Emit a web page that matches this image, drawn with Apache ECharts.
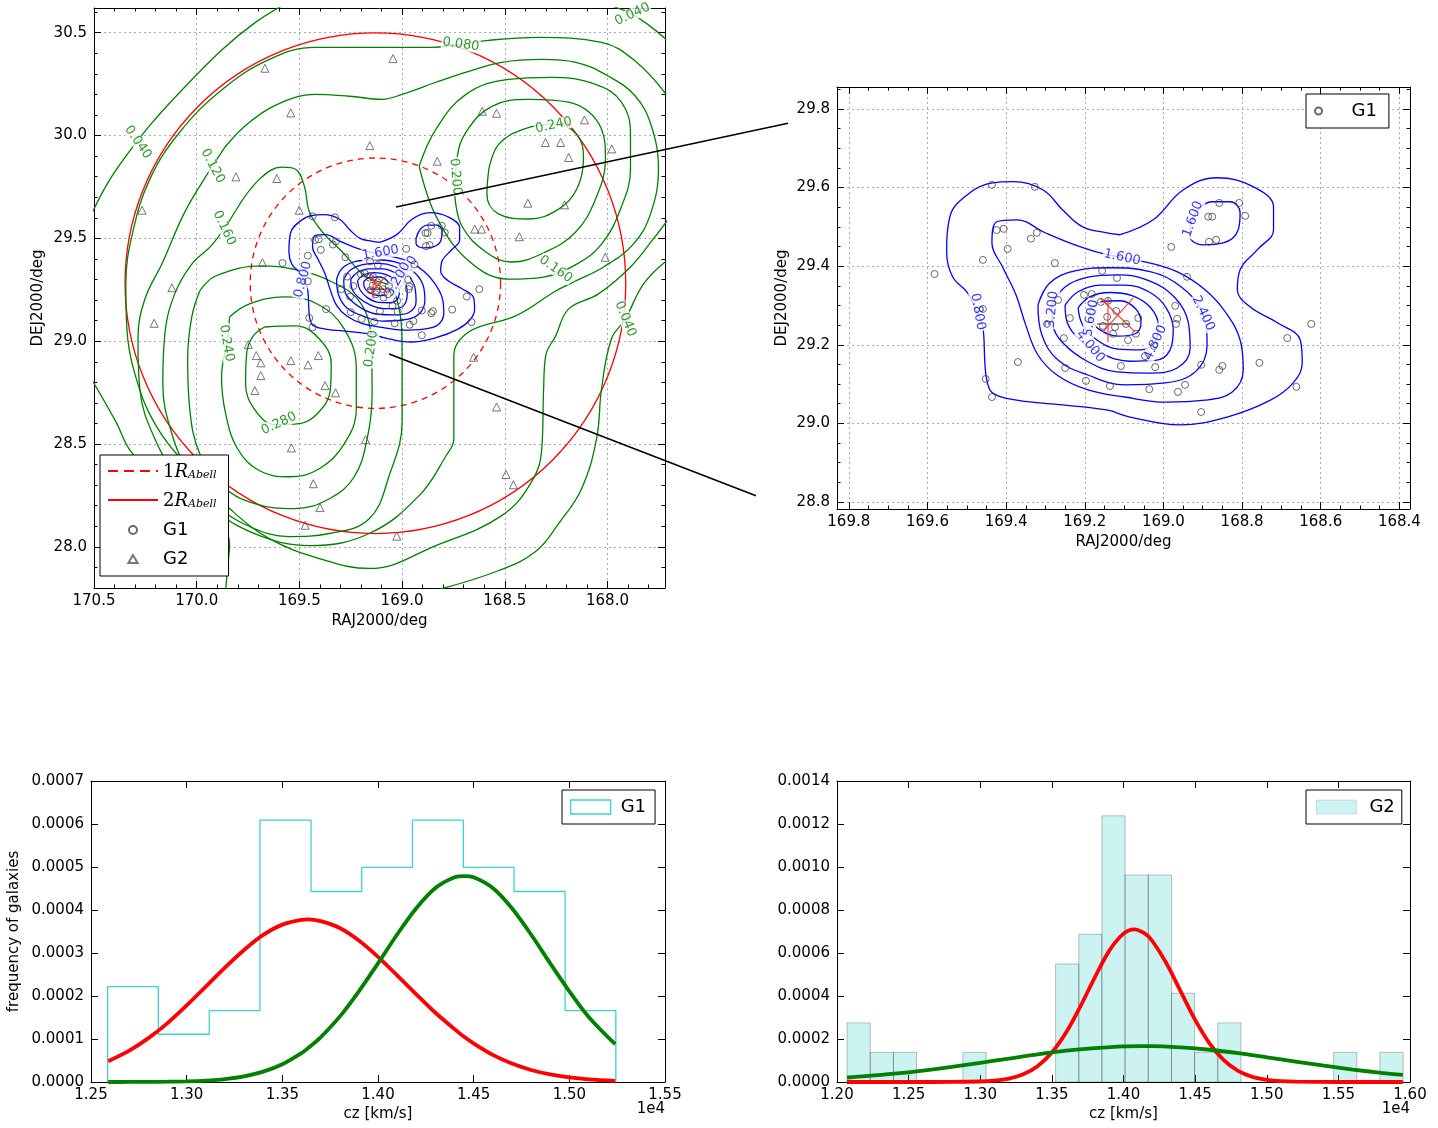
<!DOCTYPE html>
<html><head><meta charset="utf-8">
<script src="https://cdn.jsdelivr.net/npm/echarts@6/dist/echarts.min.js"></script>
<style>html,body{margin:0;padding:0;background:#fff}#c{width:1438px;height:1128px}</style>
</head><body><div id="c"></div><script>
// ---------------- DATA ----------------
// tick labels
const tlXMajor = [168.0,168.5,169.0,169.5,170.0,170.5];
const tlYMajor = [28.0,28.5,29.0,29.5,30.0,30.5];
const trXMajor = [168.4,168.6,168.8,169.0,169.2,169.4,169.6,169.8];
const trYMajor = [28.8,29.0,29.2,29.4,29.6,29.8];
const blXMajor = [1.25,1.30,1.35,1.40,1.45,1.50,1.55];
const blYMajor = [0,0.0001,0.0002,0.0003,0.0004,0.0005,0.0006,0.0007];
const brXMajor = [1.20,1.25,1.30,1.35,1.40,1.45,1.50,1.55,1.60];
const brYMajor = [0,0.0002,0.0004,0.0006,0.0008,0.0010,0.0012,0.0014];

// G1 galaxies (RA, Dec)
const g1Points = [[169.436,29.607],[169.327,29.602],[169.424,29.492],[169.406,29.495],[169.337,29.470],[169.322,29.485],[169.396,29.444],[169.459,29.416],[169.582,29.380],[169.276,29.408],[169.268,29.314],[169.296,29.253],[169.238,29.268],[169.459,29.291],[169.253,29.217],[169.370,29.156],[169.250,29.141],[169.197,29.108],[169.136,29.095],[169.452,29.113],[169.436,29.067],[169.156,29.388],[169.118,29.370],[169.202,29.327],[169.182,29.329],[169.141,29.312],[169.143,29.271],[169.120,29.286],[169.154,29.248],[169.123,29.245],[169.128,29.228],[169.095,29.253],[169.108,29.146],[169.090,29.212],[168.858,29.561],[168.807,29.561],[168.792,29.528],[168.886,29.526],[168.876,29.526],[168.884,29.462],[168.866,29.467],[168.980,29.449],[168.940,29.373],[168.970,29.299],[168.965,29.266],[168.968,29.253],[169.064,29.268],[169.070,29.228],[169.024,29.197],[169.047,29.171],[169.021,29.143],[168.904,29.149],[168.858,29.136],[168.850,29.146],[168.756,29.154],[168.685,29.217],[168.624,29.253],[168.662,29.093],[169.036,29.087],[168.963,29.080],[168.945,29.098],[168.904,29.029],[169.159,29.309]];
// G2 galaxies (RA, Dec)
const g2Points = [[169.668,30.327],[169.542,30.110],[169.157,29.951],[169.809,29.799],[169.610,29.791],[170.266,29.637],[169.501,29.637],[169.680,29.382],[170.121,29.260],[169.044,30.374],[168.610,30.118],[168.540,30.108],[168.112,30.076],[168.302,29.966],[168.228,29.966],[168.189,29.893],[167.979,29.935],[168.829,29.875],[168.388,29.671],[168.209,29.663],[168.646,29.545],[168.613,29.545],[168.429,29.508],[168.011,29.408],[170.207,29.087],[169.749,28.984],[169.710,28.930],[169.688,28.895],[169.688,28.833],[169.717,28.760],[169.542,28.906],[169.458,28.885],[169.408,28.930],[169.375,28.784],[169.324,28.749],[169.539,28.481],[169.178,28.521],[169.432,28.307],[169.400,28.191],[169.472,28.105],[168.652,28.922],[168.540,28.680],[168.494,28.352],[168.458,28.302],[169.026,28.052]];

// Abell radius circles: [RA, Dec, radius deg]
const abell1R = [[169.13, 29.282, 0.609]];
const abell2R = [[169.13, 29.282, 1.218]];

// centre marks [x1,y1,x2,y2,kind]
const centerMarks = [[169.161,29.319,169.072,29.233,0],[169.154,29.233,169.077,29.319,0],[169.141,29.319,169.141,29.207,0],[169.169,29.253,169.085,29.253,1]];
// zoom connectors (top-left data coords) [x1,y1,x2,y2]
const connectors = [[169.029,29.652,167.121,30.060],[169.063,28.938,167.277,28.249]];

// G2 density contours (green)
const g040a = [[169.573,30.637],[169.714,30.550],[169.874,30.419],[170.068,30.225],[170.223,30.055],[170.359,29.880],[170.442,29.754],[170.519,29.603]];
const g040b = [[170.519,28.827],[170.393,28.608],[170.320,28.463],[170.180,28.332],[170.010,28.210],[169.888,28.113],[169.840,28.016],[169.850,27.895],[169.859,27.788]];
const g040c = [[167.714,29.390],[167.825,29.278],[167.913,29.108],[167.981,29.011],[168.029,28.768],[168.053,28.526],[168.126,28.283],[168.238,28.113],[168.350,27.977],[168.529,27.885],[168.820,27.793]];
const g040d = [[168.044,30.647],[167.879,30.589],[167.714,30.467]];
const g080 = [[167.714,30.200],[167.864,30.361],[168.029,30.453],[168.335,30.477],[168.578,30.463],[168.854,30.429],[169.097,30.429],[169.422,30.429],[169.646,30.370],[169.874,30.225],[170.083,30.016],[170.228,29.788],[170.311,29.531],[170.345,29.278],[170.340,29.060],[170.301,28.841],[170.204,28.599],[170.034,28.380],[169.840,28.186],[169.646,28.040],[169.403,27.943],[169.160,27.895],[168.835,28.006],[168.515,28.152],[168.369,28.317],[168.320,28.477],[168.311,28.768],[168.301,28.929],[168.252,29.026],[168.189,29.157],[168.044,29.230],[167.888,29.361],[167.777,29.497],[167.704,29.594]];
const g120 = [[169.859,29.948],[169.743,30.065],[169.583,30.162],[169.422,30.200],[169.257,30.191],[169.097,30.176],[169.000,30.200],[168.835,30.259],[168.675,30.312],[168.515,30.356],[168.320,30.370],[168.155,30.356],[167.995,30.288],[167.864,30.191],[167.786,30.045],[167.752,29.836],[167.791,29.618],[167.874,29.472],[168.019,29.361],[168.165,29.288],[168.252,29.244],[168.447,29.123],[168.675,29.045],[168.748,28.929],[168.748,28.526],[168.786,28.443],[168.917,28.249],[169.160,28.065],[169.451,28.006],[169.694,28.055],[169.913,28.176],[170.083,28.332],[170.204,28.526],[170.277,28.768],[170.286,29.011],[170.252,29.205],[170.165,29.385],[170.068,29.608],[169.985,29.754]];
const g160a = [[169.811,29.633],[169.694,29.788],[169.583,29.846],[169.519,29.836],[169.476,29.754],[169.451,29.628],[169.388,29.531],[169.291,29.434],[169.180,29.317],[169.039,29.244],[169.000,28.929],[169.000,28.608],[169.063,28.346],[169.160,28.137],[169.354,28.065],[169.549,28.050],[169.743,28.099],[169.913,28.210],[170.034,28.356],[170.121,28.550],[170.165,28.793],[170.155,29.035],[170.107,29.230],[170.024,29.375],[169.922,29.472]];
const g160b = [[168.917,29.851],[168.835,30.031],[168.689,30.200],[168.481,30.273],[168.272,30.283],[168.058,30.249],[167.932,30.162],[167.888,30.006],[167.888,29.836],[167.937,29.642],[168.029,29.472],[168.150,29.375],[168.311,29.312],[168.481,29.302],[168.675,29.390],[168.835,29.608]];
const g200a = [[169.985,29.244],[169.908,29.317],[169.680,29.366],[169.534,29.351],[169.340,29.288],[169.199,29.181],[169.150,28.987],[169.146,28.744],[169.170,28.526],[169.233,28.341],[169.354,28.234],[169.524,28.186],[169.718,28.210],[169.879,28.298],[169.985,28.453],[170.034,28.671],[170.044,28.914],[170.024,29.118]];
const g200b = [[168.743,29.705],[168.733,29.885],[168.689,30.016],[168.563,30.142],[168.383,30.176],[168.189,30.162],[168.029,30.031],[168.010,29.885],[168.058,29.691],[168.155,29.531],[168.301,29.434],[168.466,29.385],[168.592,29.434],[168.709,29.560]];
const g240a = [[169.840,29.118],[169.743,29.181],[169.573,29.215],[169.413,29.181],[169.282,29.060],[169.223,28.866],[169.223,28.671],[169.282,28.501],[169.403,28.380],[169.549,28.341],[169.694,28.370],[169.801,28.477],[169.859,28.647],[169.879,28.827],[169.850,29.011]];
const g240b = [[168.578,29.836],[168.529,29.958],[168.408,30.031],[168.262,30.055],[168.150,30.006],[168.117,29.885],[168.150,29.739],[168.238,29.642],[168.383,29.594],[168.529,29.618],[168.587,29.715]];
const g280 = [[169.670,29.069],[169.519,29.074],[169.403,29.011],[169.345,28.890],[169.350,28.759],[169.413,28.647],[169.500,28.599],[169.617,28.594],[169.714,28.662],[169.762,28.793],[169.757,28.938],[169.728,29.021]];

// G1 density contours (blue)
const b080 = [[169.110,29.480],[169.026,29.518],[168.950,29.594],[168.863,29.625],[168.771,29.602],[168.720,29.551],[168.720,29.492],[168.761,29.442],[168.805,29.391],[168.812,29.340],[168.779,29.296],[168.710,29.256],[168.652,29.212],[168.647,29.154],[168.670,29.103],[168.728,29.059],[168.838,29.016],[168.958,28.996],[169.085,29.016],[169.144,29.034],[169.256,29.047],[169.373,29.059],[169.434,29.077],[169.449,29.110],[169.454,29.154],[169.459,29.245],[169.477,29.289],[169.498,29.332],[169.536,29.373],[169.551,29.434],[169.543,29.526],[169.492,29.587],[169.434,29.612],[169.383,29.615],[169.306,29.594],[169.256,29.543],[169.205,29.500],[169.144,29.485]];
const b160 = [[169.047,29.411],[168.963,29.385],[168.894,29.340],[168.843,29.284],[168.805,29.212],[168.797,29.136],[168.825,29.080],[168.894,29.059],[168.996,29.054],[169.098,29.067],[169.192,29.085],[169.268,29.121],[169.319,29.174],[169.350,29.250],[169.375,29.327],[169.408,29.396],[169.436,29.459],[169.424,29.513],[169.373,29.518],[169.301,29.485],[169.225,29.454],[169.161,29.434]];
const b160i = [[168.932,29.500],[168.912,29.543],[168.876,29.564],[168.830,29.564],[168.805,29.536],[168.810,29.492],[168.848,29.459],[168.899,29.454],[168.932,29.475]];
const b240 = [[169.319,29.301],[169.289,29.357],[169.225,29.388],[169.136,29.396],[169.034,29.386],[168.952,29.345],[168.899,29.276],[168.889,29.199],[168.919,29.131],[168.996,29.103],[169.098,29.098],[169.192,29.123],[169.268,29.161],[169.309,29.225]];
const b320 = [[169.284,29.301],[169.250,29.347],[169.192,29.372],[169.115,29.378],[169.034,29.362],[168.970,29.319],[168.937,29.258],[168.932,29.192],[168.965,29.141],[169.034,29.128],[169.118,29.131],[169.194,29.158],[169.256,29.205],[169.281,29.250]];
const b400 = [[169.250,29.301],[169.217,29.335],[169.161,29.352],[169.098,29.352],[169.034,29.333],[168.993,29.294],[168.975,29.238],[168.983,29.187],[169.021,29.160],[169.085,29.158],[169.156,29.177],[169.212,29.212],[169.245,29.258]];
const b480 = [[169.217,29.294],[169.187,29.322],[169.136,29.333],[169.080,29.325],[169.034,29.296],[169.013,29.250],[169.021,29.207],[169.059,29.187],[169.115,29.189],[169.169,29.212],[169.205,29.250]];
const b560 = [[169.187,29.289],[169.156,29.310],[169.110,29.312],[169.070,29.291],[169.057,29.256],[169.072,29.228],[169.115,29.222],[169.161,29.238],[169.184,29.263]];

// contour labels [x, y, text, rotation]
const greenLabelsTL = [[170.286,29.967,'0.040',-55],[168.714,30.443,'0.080',-8],[169.922,29.851,'0.120',-62],[169.866,29.550,'0.160',-65],[168.740,29.800,'0.200',-85],[168.262,30.050,'0.240',12],[168.252,29.350,'0.160',-35],[167.913,29.108,'0.040',-68],[167.879,30.589,'0.040',25],[169.855,28.990,'0.240',-80],[169.150,28.963,'0.200',82],[169.600,28.600,'0.280',25]];
const blueLabelsTL = [[169.482,29.300,'0.800',75],[169.105,29.430,'1.600',10],[168.985,29.330,'2.400',60],[169.020,29.300,'3.200',60]];
const blueLabelsTR = [[169.472,29.284,'0.800',-80],[169.105,29.422,'1.600',-12],[168.925,29.520,'1.600',70],[168.899,29.280,'2.400',-65],[169.283,29.290,'3.200',85],[169.186,29.196,'4.000',-50],[169.020,29.205,'4.800',65],[169.184,29.268,'5.600',80]];

// G1 velocity histogram (cz / 1e4)
const g1Edges = [1.2587,1.2852,1.3118,1.3383,1.3650,1.3915,1.4180,1.4446,1.4711,1.4978,1.5243];
const g1Freq = [0.000222,0.000111,0.000166,0.000609,0.000443,0.000499,0.000609,0.000499,0.000443,0.000166];
const g1FitX = [1.259,1.27,1.28,1.29,1.30,1.31,1.32,1.33,1.34,1.35,1.36,1.363,1.37,1.38,1.39,1.40,1.41,1.42,1.43,1.44,1.445,1.45,1.46,1.47,1.48,1.49,1.50,1.51,1.524];
const g1FitRed = [0.0000484,0.0000731,0.000102,0.000137,0.000178,0.000222,0.000266,0.000307,0.000342,0.000366,0.000377,0.000378,0.000374,0.000358,0.000329,0.000291,0.000248,0.000204,0.000161,0.000123,0.000105,0.0000897,0.0000632,0.0000429,0.0000280,0.0000176,0.0000107,0.0000062,0.0000027];
const g1FitGreen = [0,0.0000001,0.0000003,0.0000007,0.0000016,0.0000034,0.0000069,0.0000132,0.0000240,0.0000413,0.0000673,0.0000771,0.000104,0.000152,0.000211,0.000276,0.000343,0.000404,0.000451,0.000476,0.000479,0.000476,0.000451,0.000404,0.000343,0.000276,0.000211,0.000152,0.0000879];

// G2 velocity histogram
const g2Edges = [1.2070,1.2232,1.2394,1.2555,1.2717,1.2879,1.3041,1.3202,1.3364,1.3526,1.3688,1.3849,1.4011,1.4173,1.4335,1.4496,1.4658,1.4820,1.4982,1.5143,1.5305,1.5467,1.5629,1.5790,1.5952];
const g2Freq = [0.000275,0.000138,0.000138,0,0,0.000138,0,0,0,0.000549,0.000687,0.001238,0.000963,0.000963,0.000413,0.000138,0.000275,0,0,0,0,0.000138,0,0.000138];
const g2RedX = [1.207,1.25,1.28,1.30,1.31,1.32,1.33,1.34,1.35,1.36,1.37,1.38,1.39,1.40,1.4075,1.415,1.42,1.43,1.44,1.45,1.46,1.47,1.48,1.49,1.50,1.51,1.52,1.55,1.595];
const g2RedY = [0,0,0.0000002,0.0000023,0.0000063,0.0000157,0.0000358,0.0000736,0.000137,0.000231,0.000353,0.000487,0.000610,0.000690,0.000710,0.000690,0.000657,0.000552,0.000420,0.000289,0.000180,0.000102,0.000052,0.000024,0.0000101,0.0000038,0.0000013,0,0];
const g2GreenX = [1.207,1.22,1.24,1.26,1.28,1.30,1.32,1.34,1.36,1.38,1.40,1.413,1.42,1.44,1.46,1.48,1.50,1.52,1.54,1.56,1.58,1.595];
const g2GreenY = [0.0000209,0.0000269,0.0000385,0.0000530,0.0000702,0.0000893,0.000109,0.000129,0.000146,0.000158,0.000166,0.000167,0.000167,0.000161,0.000150,0.000134,0.000115,0.0000953,0.0000758,0.0000579,0.0000426,0.0000329];

// ---------------- CHART ----------------
const FONT = 'DejaVu Sans';
const GREEN = '#008000', BLUE = '#0000ff', RED = '#ff0000', CYAN = '#3fd3c8';

function minorTicks(a, b, step, majors) {
  const out = [], n = Math.round((b - a) / step);
  for (let i = 0; i <= n; i++) {
    const v = +(a + i * step).toFixed(6);
    if (!majors.some(m => Math.abs(m - v) < 1e-7)) out.push(v);
  }
  return out;
}

const xAxes = [], yAxes = [];
function buildAxes(dim, g, c) {
  const isX = dim === 'x';
  const min = isX ? c.xMin : c.yMin, max = isX ? c.xMax : c.yMax;
  const major = isX ? c.xMajor : c.yMajor, minor = isX ? c.xMinor : c.yMinor;
  const fmt = isX ? c.xFmt : c.yFmt;
  const pA = isX ? 'bottom' : 'left', pB = isX ? 'top' : 'right';
  const base = { type: 'value', gridIndex: g, min, max, inverse: isX ? !!c.xInv : false };
  const aline = { show: true, onZero: false, lineStyle: { color: '#000', width: 1 } };
  const out = [];
  out.push(Object.assign({}, base, {
    position: pA, axisLine: aline,
    axisTick: { show: true, inside: true, length: 7, customValues: major, lineStyle: { color: '#000' } },
    axisLabel: { show: true, customValues: major, formatter: v => fmt(v), color: '#000', fontSize: 15, fontFamily: FONT, margin: isX ? 6 : 7 },
    splitLine: { show: !!c.grid, lineStyle: { color: '#aaa', type: [2, 3], width: 1 } },
    name: isX ? c.xName : c.yName, nameLocation: 'middle', nameGap: isX ? c.xGap : c.yGap,
    nameTextStyle: { color: '#000', fontSize: 15, fontFamily: FONT }
  }));
  out.push(Object.assign({}, base, {
    position: pB, axisLine: aline,
    axisTick: { show: true, inside: true, length: 7, customValues: major, lineStyle: { color: '#000' } },
    axisLabel: { show: false }, splitLine: { show: false }
  }));
  [pA, pB].forEach(p => out.push(Object.assign({}, base, {
    position: p, axisLine: { show: false, onZero: false },
    axisTick: { show: minor.length > 0, inside: true, length: 3.5, customValues: minor.length ? minor : [min], lineStyle: { color: '#000' } },
    axisLabel: { show: false }, splitLine: { show: false }
  })));
  return out;
}
function addPanel(g, c) {
  buildAxes('x', g, c).forEach(a => xAxes.push(a));
  buildAxes('y', g, c).forEach(a => yAxes.push(a));
}
const f1 = v => v.toFixed(1), f2 = v => v.toFixed(2), f4 = v => v.toFixed(4);
addPanel(0, { xMin: 167.72, xMax: 170.5, xInv: true, xMajor: tlXMajor, xMinor: minorTicks(167.8, 170.5, 0.1, tlXMajor), xFmt: f1,
  yMin: 27.8, yMax: 30.62, yMajor: tlYMajor, yMinor: minorTicks(27.8, 30.6, 0.1, tlYMajor), yFmt: f1,
  grid: true, xName: 'RAJ2000/deg', yName: 'DEJ2000/deg', xGap: 26, yGap: 48 });
addPanel(1, { xMin: 168.373, xMax: 169.83, xInv: true, xMajor: trXMajor, xMinor: minorTicks(168.4, 169.8, 0.05, trXMajor), xFmt: f1,
  yMin: 28.782, yMax: 29.856, yMajor: trYMajor, yMinor: minorTicks(28.8, 29.85, 0.05, trYMajor), yFmt: f1,
  grid: true, xName: 'RAJ2000/deg', yName: 'DEJ2000/deg', xGap: 26, yGap: 47 });
addPanel(2, { xMin: 1.25, xMax: 1.55, xMajor: blXMajor, xMinor: [], xFmt: f2,
  yMin: 0, yMax: 0.0007, yMajor: blYMajor, yMinor: [], yFmt: f4,
  grid: false, xName: 'cz [km/s]', yName: 'frequency of galaxies', xGap: 25, yGap: 69 });
addPanel(3, { xMin: 1.20, xMax: 1.60, xMajor: brXMajor, xMinor: [], xFmt: f2,
  yMin: 0, yMax: 0.0014, yMajor: brYMajor, yMinor: [], yFmt: f4,
  grid: false, xName: 'cz [km/s]', yName: '', xGap: 25, yGap: 60 });

const series = [];
function contour(pts, color, g, closed) {
  series.push({ type: 'line', xAxisIndex: 4 * g, yAxisIndex: 4 * g, data: closed ? pts.concat([pts[0]]) : pts,
    symbol: 'none', smooth: 0.4, lineStyle: { color, width: 1.3 }, silent: true, z: 2 });
}
function labels(items, color, g) {
  series.push({ type: 'scatter', xAxisIndex: 4 * g, yAxisIndex: 4 * g, symbolSize: 0, silent: true, z: 3,
    data: items.map(it => ({ value: [it[0], it[1]], label: { show: true, position: 'inside', formatter: it[2], rotate: it[3],
      color, fontSize: 13, fontFamily: FONT, backgroundColor: '#fff', padding: [0, 1] } })) });
}
function segRender(color, width, altColor) {
  return (p, api) => {
    const a = api.coord([api.value(0), api.value(1)]);
    const b = api.coord([api.value(2), api.value(3)]);
    return { type: 'line', shape: { x1: a[0], y1: a[1], x2: b[0], y2: b[1] },
      style: { stroke: (altColor && api.value(4) === 1) ? altColor : color, lineWidth: width } };
  };
}
function circleRender(dash) {
  return (p, api) => {
    const c = api.coord([api.value(0), api.value(1)]);
    const s = api.size([api.value(2), api.value(2)]);
    return { type: 'circle', shape: { cx: c[0], cy: c[1], r: (s[0] + s[1]) / 2 },
      style: { fill: 'none', stroke: RED, lineWidth: 1.3, lineDash: dash } };
  };
}

// top-left
[g040a, g040b, g040c, g040d, g080].forEach(c => contour(c, GREEN, 0, false));
[g120, g160a, g160b, g200a, g200b, g240a, g240b, g280].forEach(c => contour(c, GREEN, 0, true));
[b080, b160, b160i, b240, b320, b400, b480, b560].forEach(c => contour(c, BLUE, 0, true));
series.push({ type: 'custom', name: '1R', xAxisIndex: 0, yAxisIndex: 0, data: abell1R, encode: { x: 0, y: 1 },
  renderItem: circleRender([6, 5]), itemStyle: { color: RED }, silent: true, z: 2 });
series.push({ type: 'custom', name: '2R', xAxisIndex: 0, yAxisIndex: 0, data: abell2R, encode: { x: 0, y: 1 },
  renderItem: circleRender(null), itemStyle: { color: RED }, silent: true, z: 2 });
labels(greenLabelsTL, GREEN, 0);
labels(blueLabelsTL, BLUE, 0);
series.push({ type: 'scatter', name: 'G2', xAxisIndex: 0, yAxisIndex: 0, data: g2Points, symbol: 'triangle', symbolSize: 8,
  itemStyle: { color: 'rgba(255,255,255,0)', borderColor: '#555', borderWidth: 1 }, z: 4 });
series.push({ type: 'scatter', name: 'G1', xAxisIndex: 0, yAxisIndex: 0, data: g1Points, symbol: 'circle', symbolSize: 7,
  itemStyle: { color: 'rgba(255,255,255,0)', borderColor: '#444', borderWidth: 1 }, z: 4 });
series.push({ type: 'custom', xAxisIndex: 0, yAxisIndex: 0, data: centerMarks, encode: { x: [0, 2], y: [1, 3] },
  renderItem: segRender('#ff3030', 1.2, '#333'), silent: true, z: 5 });
series.push({ type: 'custom', xAxisIndex: 0, yAxisIndex: 0, data: connectors, encode: { x: [0, 2], y: [1, 3] },
  renderItem: segRender('#000', 1.6), silent: true, z: 6 });

// top-right
[b080, b160, b160i, b240, b320, b400, b480, b560].forEach(c => contour(c, BLUE, 1, true));
labels(blueLabelsTR, BLUE, 1);
series.push({ type: 'scatter', name: 'G1z', xAxisIndex: 4, yAxisIndex: 4, data: g1Points, symbol: 'circle', symbolSize: 7,
  itemStyle: { color: 'rgba(255,255,255,0)', borderColor: '#444', borderWidth: 1 }, z: 4 });
series.push({ type: 'custom', xAxisIndex: 4, yAxisIndex: 4, data: centerMarks, encode: { x: [0, 2], y: [1, 3] },
  renderItem: segRender('#ff3030', 1.1, '#333'), silent: true, z: 5 });

// bottom-left
const stepPts = [[g1Edges[0], 0]];
g1Freq.forEach((h, i) => { stepPts.push([g1Edges[i], h]); stepPts.push([g1Edges[i + 1], h]); });
stepPts.push([g1Edges[g1Edges.length - 1], 0]);
series.push({ type: 'line', name: 'G1h', xAxisIndex: 8, yAxisIndex: 8, data: stepPts, symbol: 'none',
  lineStyle: { color: CYAN, width: 1.3 }, itemStyle: { color: CYAN }, z: 2 });
series.push({ type: 'line', xAxisIndex: 8, yAxisIndex: 8, data: g1FitX.map((x, i) => [x, g1FitRed[i]]), symbol: 'none', smooth: 0.3,
  lineStyle: { color: RED, width: 3.8 }, z: 3 });
series.push({ type: 'line', xAxisIndex: 8, yAxisIndex: 8, data: g1FitX.map((x, i) => [x, g1FitGreen[i]]), symbol: 'none', smooth: 0.3,
  lineStyle: { color: GREEN, width: 3.8 }, z: 3 });

// bottom-right
series.push({ type: 'custom', name: 'G2h', xAxisIndex: 12, yAxisIndex: 12, data: g2Freq.map((h, i) => [g2Edges[i], g2Edges[i + 1], h]),
  encode: { x: [0, 1], y: 2 }, itemStyle: { color: 'rgba(0,191,191,0.2)' },
  renderItem: (p, api) => {
    if (!(api.value(2) > 0)) return null;
    const a = api.coord([api.value(0), api.value(2)]);
    const b = api.coord([api.value(1), 0]);
    return { type: 'rect', shape: { x: a[0], y: a[1], width: b[0] - a[0], height: b[1] - a[1] },
      style: { fill: 'rgba(0,191,191,0.2)', stroke: 'rgba(0,0,0,0.3)', lineWidth: 0.8 } };
  }, z: 1 });
series.push({ type: 'line', xAxisIndex: 12, yAxisIndex: 12, data: g2RedX.map((x, i) => [x, g2RedY[i]]), symbol: 'none', smooth: 0.3,
  lineStyle: { color: RED, width: 3.8 }, z: 3 });
series.push({ type: 'line', xAxisIndex: 12, yAxisIndex: 12, data: g2GreenX.map((x, i) => [x, g2GreenY[i]]), symbol: 'none', smooth: 0.3,
  lineStyle: { color: GREEN, width: 3.8 }, z: 3 });

const legendNames = { '1R': '{n|1}{r|R}{s|Abell}', '2R': '{n|2}{r|R}{s|Abell}', 'G1': 'G1', 'G2': 'G2', 'G1z': 'G1', 'G1h': 'G1', 'G2h': 'G2' };
const legBase = { orient: 'vertical', selectedMode: false, backgroundColor: '#fff', borderColor: '#000', borderWidth: 1, borderRadius: 0,
  formatter: n => legendNames[n] || n,
  textStyle: { fontFamily: FONT, fontSize: 18, color: '#000',
    rich: { n: { fontFamily: 'DejaVu Serif', fontSize: 18, color: '#000', verticalAlign: 'bottom' },
            r: { fontFamily: 'DejaVu Serif', fontStyle: 'italic', fontSize: 18, color: '#000', verticalAlign: 'bottom' },
            s: { fontFamily: 'DejaVu Serif', fontStyle: 'italic', fontSize: 11, color: '#000', verticalAlign: 'bottom', padding: [9, 0, 0, 0] } } } };

const option = {
  animation: false,
  backgroundColor: '#fff',
  textStyle: { fontFamily: FONT },
  grid: [
    { left: 94, top: 8, width: 571, height: 580, outerBoundsMode: 'none' },
    { left: 837, top: 87, width: 573, height: 422, outerBoundsMode: 'none' },
    { left: 91, top: 781, width: 574, height: 301, outerBoundsMode: 'none' },
    { left: 837, top: 781, width: 573, height: 301, outerBoundsMode: 'none' }
  ],
  xAxis: xAxes, yAxis: yAxes,
  legend: [
    Object.assign({}, legBase, { left: 100, top: 455, itemWidth: 50, itemHeight: 8, itemGap: 11, padding: [8, 12, 8, 8],
      data: [ { name: '1R', icon: 'path://M0,0h10v2h-10z M16,0h10v2h-10z M32,0h10v2h-10z M48,0h2v2h-2z' },
              { name: '2R', icon: 'path://M0,0h50v2h-50z' }, 'G1',
              { name: 'G2', icon: 'path://M5,0L10,8.66L0,8.66Z' } ] }),
    Object.assign({}, legBase, { left: 1306, top: 94, itemWidth: 40, itemHeight: 7, padding: [8, 12, 8, 8],
      textStyle: Object.assign({}, legBase.textStyle, { padding: [0, 0, 0, 8] }), data: ['G1z'] }),
    Object.assign({}, legBase, { left: 562, top: 790, itemWidth: 40, itemHeight: 14, padding: [8, 9, 8, 8],
      textStyle: Object.assign({}, legBase.textStyle, { padding: [0, 0, 0, 5] }),
      data: [{ name: 'G1h', icon: 'rect', itemStyle: { color: '#fff', borderColor: CYAN, borderWidth: 1.3 } }] }),
    Object.assign({}, legBase, { left: 1306, top: 790, itemWidth: 40, itemHeight: 14, padding: [8, 7, 8, 10],
      textStyle: Object.assign({}, legBase.textStyle, { padding: [0, 0, 0, 8] }),
      data: [{ name: 'G2h', icon: 'rect', itemStyle: { color: 'rgba(0,191,191,0.2)', borderColor: 'rgba(0,0,0,0.15)', borderWidth: 0.8 } }] })
  ],
  graphic: [
    { type: 'text', right: 773, top: 1102, style: { text: '1e4', fontSize: 15, fontFamily: FONT, fill: '#000' } },
    { type: 'text', right: 28, top: 1102, style: { text: '1e4', fontSize: 15, fontFamily: FONT, fill: '#000' } }
  ],
  series
};
const chart = echarts.init(document.getElementById('c'), null, { renderer: 'canvas' });
chart.setOption(option);
</script></body></html>
